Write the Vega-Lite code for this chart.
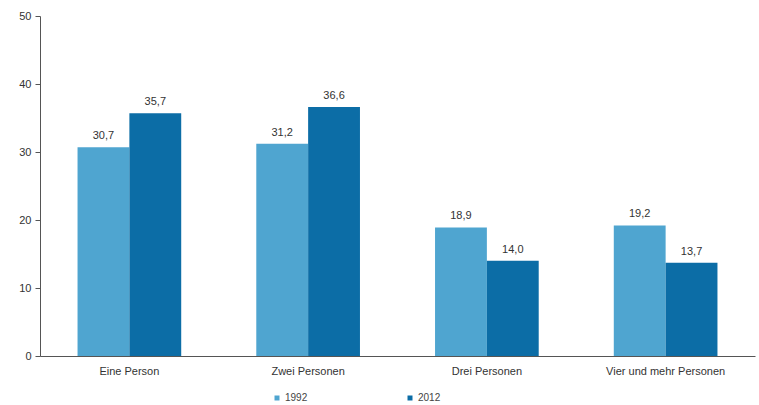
{
  "$schema": "https://vega.github.io/schema/vega-lite/v6.json",
  "width": 715,
  "height": 340,
  "autosize": {"type": "none"},
  "padding": {"left": 40, "top": 16, "right": 4, "bottom": 49},
  "background": "white",
  "config": {
    "locale": {"number": {"decimal": ",", "thousands": ".", "grouping": [3], "currency": ["", " €"]}},
    "font": "Liberation Sans",
    "view": {"stroke": null},
    "axis": {"labelColor": "#333333", "labelFontSize": 11, "domainColor": "#555555", "tickColor": "#555555", "grid": false, "title": null}
  },
  "data": {
    "values": [
      {"kategorie": "Eine Person", "jahr": "1992", "wert": 30.7},
      {"kategorie": "Eine Person", "jahr": "2012", "wert": 35.7},
      {"kategorie": "Zwei Personen", "jahr": "1992", "wert": 31.2},
      {"kategorie": "Zwei Personen", "jahr": "2012", "wert": 36.6},
      {"kategorie": "Drei Personen", "jahr": "1992", "wert": 18.9},
      {"kategorie": "Drei Personen", "jahr": "2012", "wert": 14.0},
      {"kategorie": "Vier und mehr Personen", "jahr": "1992", "wert": 19.2},
      {"kategorie": "Vier und mehr Personen", "jahr": "2012", "wert": 13.7}
    ]
  },
  "encoding": {
    "x": {
      "field": "kategorie", "type": "nominal", "sort": null,
      "scale": {"paddingInner": 0.42, "paddingOuter": 0.21},
      "axis": {"labelAngle": 0, "ticks": false, "labelPadding": 9, "domainColor": "#555555"}
    },
    "xOffset": {"field": "jahr", "type": "nominal", "scale": {"paddingInner": 0}},
    "y": {
      "field": "wert", "type": "quantitative",
      "scale": {"domain": [0, 50]},
      "axis": {"values": [0, 10, 20, 30, 40, 50], "tickSize": 5, "labelPadding": 4, "format": "d"}
    }
  },
  "layer": [
    {
      "mark": {"type": "bar"},
      "encoding": {
        "color": {
          "field": "jahr", "type": "nominal",
          "scale": {"domain": ["1992", "2012"], "range": ["#4FA5D0", "#0C6DA6"]},
          "legend": {
            "title": null, "orient": "none", "direction": "horizontal",
            "legendX": 232, "legendY": 377,
            "symbolType": "square", "symbolSize": 25, "labelFontSize": 10,
            "labelColor": "#444444", "columnPadding": 97, "labelOffset": 3
          }
        }
      }
    },
    {
      "mark": {"type": "text", "baseline": "bottom", "dy": -6, "fontSize": 11, "color": "#333333"},
      "encoding": {
        "text": {"field": "wert", "type": "quantitative", "format": ".1f"}
      }
    }
  ]
}
